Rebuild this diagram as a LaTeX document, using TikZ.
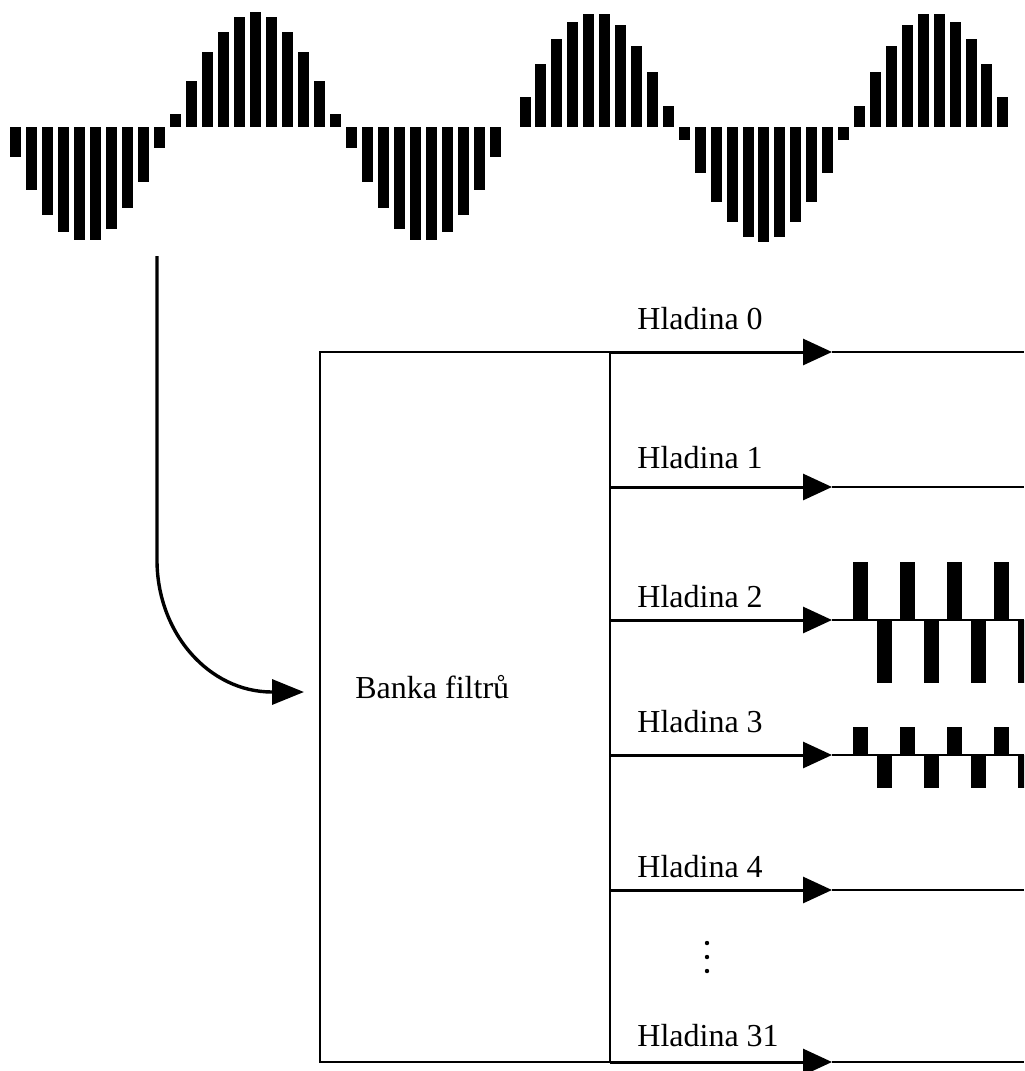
\documentclass[tikz,border=0pt]{standalone}
\usepackage{fontspec}
\setmainfont{Liberation Serif}
\usetikzlibrary{arrows.meta}

\begin{document}
\begin{tikzpicture}[x=0.5pt,y=-0.5pt,font=\fontsize{16}{19}\selectfont,
  outline/.style={line width=1pt},
  feed/.style={line width=1.7pt,-{Triangle[length=16pt,width=12.5pt]}},
  tapline/.style={line width=1.5pt,-{Triangle[length=14.5pt,width=13pt]}},
  thinline/.style={line width=1pt},
  lvl/.style={anchor=base west,inner sep=0pt}]
  \useasboundingbox (0,0) rectangle (1024,1071);
  \clip (0,0) rectangle (1024,1071);
  \foreach \h [count=\k from 0] in {30,63,88,105,113,113,102,81,55,21,-13,-46,-75,-95,-110,
      -115,-110,-95,-75,-46,-13,21,55,81,102,113,113,105,88,63,30} {
    \fill (15+16*\k-5.5,127) rectangle ++(11,\h);
    \fill (525+15.93*\k-5.5,127) rectangle ++(11,{0-(\h)});
  }
  \node[draw,outline,minimum width=145pt,minimum height=355pt,inner sep=0pt,outer sep=0pt]
    (bank) at (465,707) {};
  \node[lvl] (banktxt) at (355,698) {Banka filtrů};
  \coordinate (tap) at (157,256);
  \coordinate (feedin) at (304,692);
  \draw[feed] (tap) -- (157,560) .. controls (157,633) and (209,692) .. (272,692) -- (feedin);
  \foreach \i/\y/\b in {0/352/329,1/487/468,2/620/607,3/755/732,4/890/877,31/1062/1046} {
    \node[lvl] (lbl\i) at (637,\b) {Hladina \i};
    \coordinate (tip\i) at (832,\y);
    \coordinate (end\i) at (1024,\y);
    \draw[tapline] (bank.east |- tip\i) -- (tip\i);
    \draw[thinline] (tip\i) -- (end\i);
  }
  \foreach \k in {0,...,3} {
    \fill (853+47*\k,620) rectangle ++(15,-58);
    \fill (877+47*\k,620) rectangle ++(15,63);
    \fill (853+47*\k,755) rectangle ++(15,-28);
    \fill (877+47*\k,755) rectangle ++(15,33);
  }
  \foreach \y in {943,957,971}
    \fill (707,\y) circle (2.2);
\end{tikzpicture}
\end{document}
